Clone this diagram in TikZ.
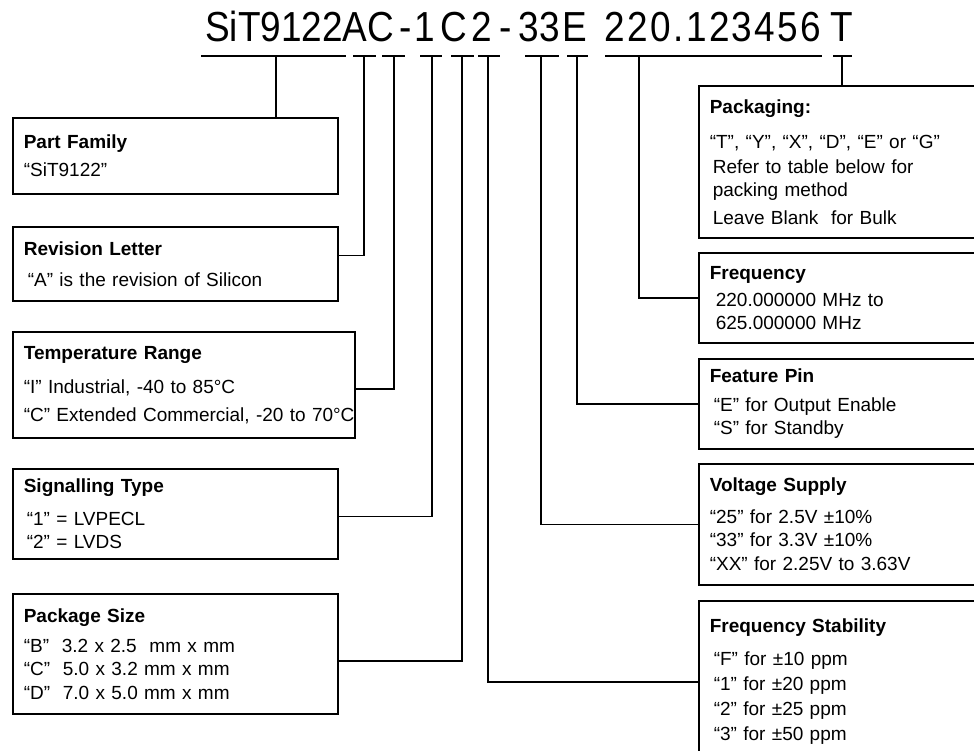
\documentclass[tikz,border=0pt]{standalone}
\usepackage{fontspec}
\setmainfont{Liberation Sans}
\newfontfamily\partfont[FakeStretch=0.88]{Liberation Sans}
\newfontfamily\partfontwide[FakeStretch=0.88,LetterSpace=5.7]{Liberation Sans}
\usetikzlibrary{calc}

\newcommand\fbody{\fontsize{19}{23}\selectfont}
\newcommand\ftitle{\partfont\fontsize{42}{50}\selectfont}

\begin{document}
\begin{tikzpicture}[
  x=1pt, y=-1pt,
  infobox/.style={draw, line width=1.6pt, rectangle, anchor=north west, align=left,
    inner xsep=11pt, inner ysep=0pt, font=\fbody},
  part/.style={anchor=base, inner sep=0pt, font=\ftitle},
  lead/.style={line width=1.6pt}
]
\useasboundingbox (0,0) rectangle (974,750);
\clip (0,0) rectangle (974,750);

% ===== Part number, one node per field =====
\node[part] (pFam) at (274,41) {SiT9122};
\node[part] (pRev) at (355,41) {A};
\node[part] (pTemp) at (381,41) {C};
\node[part] (pDashA) at (406,41) {-};
\node[part] (pSig) at (425,41) {1};
\node[part] (pPkg) at (454,41) {C};
\node[part] (pStab) at (482,41) {2};
\node[part] (pDashB) at (506,41) {-};
\node[part] (pVolt) at (539,41) {33};
\node[part] (pFeat) at (575,41) {E};
\node[part, font=\partfontwide\fontsize{42}{50}\selectfont] (pFreq) at (713,41) {220.123456};
\node[part] (pPack) at (842,41) {T};

% underlines below the fields
\draw[lead] (201,56) -- (346,56);
\draw[lead] (353,56) -- (376,56);
\draw[lead] (382,56) -- (405,56);
\draw[lead] (420,56) -- (442,56);
\draw[lead] (451,56) -- (474,56);
\draw[lead] (478,56) -- (500,56);
\draw[lead] (525,56) -- (559,56);
\draw[lead] (567,56) -- (588,56);
\draw[lead] (605,56) -- (822,56);
\draw[lead] (833,56) -- (852,56);

% field taps
\coordinate (uFam) at (276,56);
\coordinate (uRev) at (364,56);
\coordinate (uTemp) at (394,56);
\coordinate (uSig) at (432,56);
\coordinate (uPkg) at (462,56);
\coordinate (uStab) at (488,56);
\coordinate (uVolt) at (541,56);
\coordinate (uFeat) at (577,56);
\coordinate (uFreq) at (639,56);
\coordinate (uPack) at (842,56);

% ===== Left column =====
\node[infobox, text width=303pt, minimum height=76pt] (fam) at (12,117)
  {\textbf{Part Family}\\[5pt]“SiT9122”};
\node[infobox, text width=303pt, minimum height=74pt] (rev) at (12,226)
  {\textbf{Revision Letter}\\[8pt]\hspace*{4pt}“A” is the revision of Silicon};
\node[infobox, text width=320pt, minimum height=106pt] (temp) at (12,331)
  {\textbf{Temperature Range}\\[11pt]“I” Industrial, -40 to 85°C\\[5pt]\mbox{“C” Extended Commercial, -20 to 70°C}};
\node[infobox, text width=303pt, minimum height=90pt] (sig) at (12,468)
  {\textbf{Signalling Type}\\[10pt]\hspace*{3pt}“1” = LVPECL\\\hspace*{3pt}“2” = LVDS};
\node[infobox, text width=303pt, minimum height=120pt] (pkg) at (12,593)
  {\textbf{Package Size}\\[7pt]“B”\ \ 3.2 x 2.5\ \ mm x mm\\“C”\ \ 5.0 x 3.2 mm x mm\\[1pt]“D”\ \ 7.0 x 5.0 mm x mm};

% ===== Right column =====
\node[infobox, text width=278pt, minimum height=152pt] (pack) at (698,85)
  {\textbf{Packaging:}\\[12pt]“T”, “Y”, “X”, “D”, “E” or “G”\\[2pt]\hspace*{3pt}Refer to table below for\\\hspace*{3pt}packing method\\[5pt]\hspace*{3pt}Leave Blank\ \ for Bulk};
\node[infobox, text width=278pt, minimum height=90pt] (freq) at (698,252)
  {\textbf{Frequency}\\[4pt]\hspace*{6pt}220.000000 MHz to\\\hspace*{6pt}625.000000 MHz};
\node[infobox, text width=278pt, minimum height=90pt] (feat) at (698,358)
  {\textbf{Feature Pin}\\[6pt]\hspace*{4pt}“E” for Output Enable\\\hspace*{4pt}“S” for Standby};
\node[infobox, text width=278pt, minimum height=121pt] (volt) at (698,463)
  {\textbf{Voltage Supply}\\[9pt]“25” for 2.5V ±10\%\\“33” for 3.3V ±10\%\\[1pt]“XX” for 2.25V to 3.63V};
\node[infobox, text width=278pt, minimum height=162pt] (stab) at (698,600)
  {\textbf{Frequency Stability}\\[10pt]\hspace*{4pt}“F” for ±10 ppm\\[2pt]\hspace*{4pt}“1” for ±20 ppm\\[2pt]\hspace*{4pt}“2” for ±25 ppm\\[2pt]\hspace*{4pt}“3” for ±50 ppm};

% ===== Leaders =====
\draw[lead] (uFam) -- (uFam |- fam.north);
\draw[lead] (uRev) |- ($(rev.north east)!.39!(rev.south east)$);
\draw[lead] (uTemp) |- ($(temp.north east)!.54!(temp.south east)$);
\draw[lead] (uSig) |- ($(sig.north east)!.53!(sig.south east)$);
\draw[lead] (uPkg) |- ($(pkg.north east)!.56!(pkg.south east)$);
\draw[lead] (uStab) |- (stab.west);
\draw[lead] (uVolt) |- (volt.west);
\draw[lead] (uFeat) |- (feat.west);
\draw[lead] (uFreq) |- (freq.west);
\draw[lead] (uPack) -- (uPack |- pack.north);

\end{tikzpicture}
\end{document}
